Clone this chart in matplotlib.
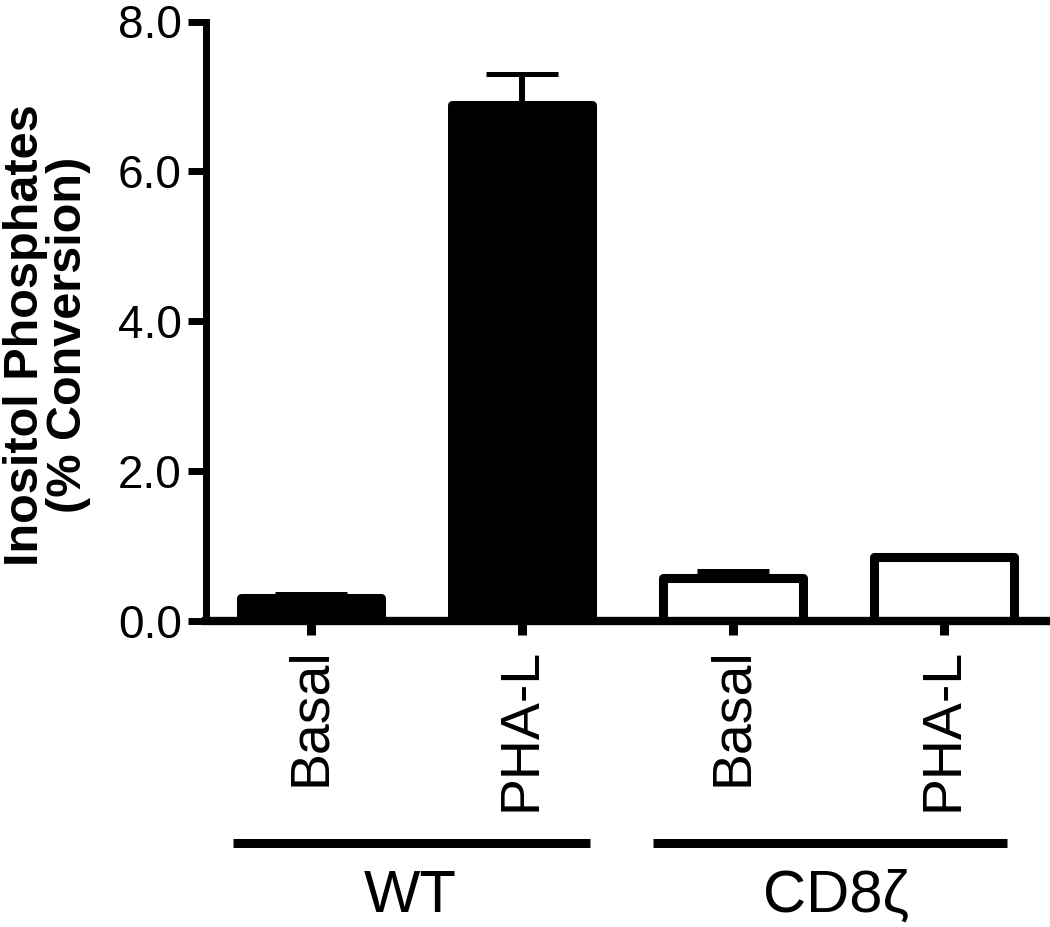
import matplotlib
matplotlib.use("Agg")
import matplotlib.pyplot as plt
from matplotlib import transforms

plt.rcParams['font.family'] = ['Liberation Sans', 'DejaVu Sans']

categories = ["Basal", "PHA-L", "Basal", "PHA-L"]
values = [0.31, 6.88, 0.58, 0.85]
errors = [0.045, 0.42, 0.09, 0.035]
fills = ["black", "black", "white", "white"]
groups = ["WT", "CD8\u03b6"]
group_spans = [(-0.37, 1.32), (1.62, 3.30)]
group_text_x = [0.47, 2.49]
yticks = [0, 2, 4, 6, 8]

fig = plt.figure(figsize=(10.5, 9.27), dpi=100)
ax = fig.add_axes([205.5/1050, (927-621)/927, 844/1050, 599.5/927])

x = list(range(len(categories)))
bars = ax.bar(x, values, width=0.66, color=fills, edgecolor="black",
              linewidth=6.5, zorder=2)
for b in bars:
    b.set_joinstyle('round')
ax.errorbar(x, values, yerr=[[0]*len(errors), errors], fmt='none',
            ecolor='black', elinewidth=4.3, capsize=26, capthick=3.6, zorder=3)

ax.set_xlim(-0.5, 3.5)
ax.set_ylim(0, 8)
ax.set_yticks(yticks)
ax.set_yticklabels([f"{v:.1f}" for v in yticks], fontsize=33)
ax.set_xticks(x)
ax.set_xticklabels(categories, rotation=90, fontsize=40)

for s in ["top", "right"]:
    ax.spines[s].set_visible(False)
ax.spines["left"].set_linewidth(5)
ax.spines["bottom"].set_linewidth(6)
ax.tick_params(axis='y', direction='out', length=13, width=5, pad=4)
ax.tick_params(axis='x', direction='out', length=10, width=6.5, pad=9)

fig.text(47/1050, 1-335/927, "Inositol Phosphates\n(% Conversion)",
         rotation=90, fontsize=35, fontweight='bold', ha='center', va='center',
         linespacing=0.92)

trans = transforms.blended_transform_factory(ax.transData, ax.transAxes)
for (x0, x1), tx, g in zip(group_spans, group_text_x, groups):
    ax.plot([x0, x1], [-0.370, -0.370], color='black', lw=6.5,
            transform=trans, clip_on=False, solid_capstyle='butt')
    ax.text(tx, -0.485, g, transform=trans, ha='center', va='baseline',
            fontsize=43)

fig.savefig("out.png", dpi=100)
